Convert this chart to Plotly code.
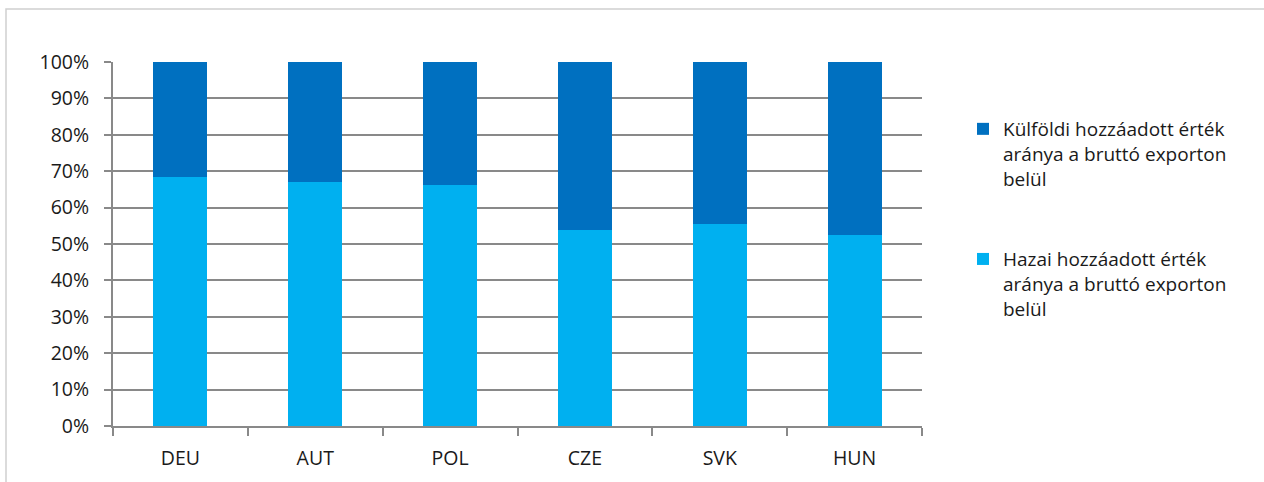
import plotly.graph_objects as go

countries = ["DEU", "AUT", "POL", "CZE", "SVK", "HUN"]
domestic = [68.4, 66.9, 66.2, 53.8, 55.4, 52.6]
foreign = [round(100 - d, 1) for d in domestic]

name_foreign = "Külföldi hozzáadott érték<br>aránya a bruttó exporton<br>belül"
name_domestic = "Hazai hozzáadott érték<br>aránya a bruttó exporton<br>belül"

W, H = 1264, 482
L, R, T, B = 113, 922, 62, 426

fig = go.Figure()
fig.add_trace(go.Bar(x=countries, y=domestic, name=name_domestic, marker_color="#00B0F0",
                     marker_line_width=0, legendgroup="d", legendrank=2))
fig.add_trace(go.Bar(x=countries, y=foreign, name=name_foreign, marker_color="#0070C0",
                     marker_line_width=0, legendgroup="f", legendrank=1))

font = dict(family="Open Sans", size=19.5, color="#1a1a1a")
lfont = dict(family="Open Sans", size=19, color="#1a1a1a")

fig.update_layout(
    width=W, height=H,
    margin=dict(l=L, r=W - R, t=T, b=H - B, pad=0),
    barmode="stack", bargap=0.6,
    plot_bgcolor="white", paper_bgcolor="white",
    font=font,
    showlegend=True,
    legend=dict(
        xref="container", yref="container",
        x=963 / W, y=1 - 110 / H, xanchor="left", yanchor="top",
        traceorder="grouped", tracegroupgap=53,
        valign="top", font=lfont, itemwidth=30,
        bgcolor="rgba(0,0,0,0)",
    ),
    xaxis=dict(
        type="category", showgrid=False, showline=True, linecolor="#898989", linewidth=2,
        ticks="outside", tickson="boundaries", ticklen=8, tickcolor="#898989", tickwidth=1.5,
        ticklabelstandoff=14, tickfont=font,
    ),
    yaxis=dict(
        range=[0, 100], tickvals=list(range(0, 101, 10)),
        ticktext=[f"{v}%" for v in range(0, 101, 10)],
        showgrid=True, gridcolor="#898989", gridwidth=1.5,
        showline=True, linecolor="#898989", linewidth=2,
        ticks="outside", ticklen=7, tickcolor="#898989", tickwidth=1.5,
        ticklabelstandoff=11, tickfont=font, zeroline=False,
    ),
    shapes=[dict(type="rect", xref="paper", yref="paper",
                 x0=(6 - L) / (R - L), x1=2, y0=-1, y1=(B - 9) / (B - T),
                 line=dict(color="#d0d0d0", width=1.5), fillcolor="rgba(0,0,0,0)", layer="below")],
)

fig.write_html("out.html", config={"displayModeBar": False},
               post_script="document.body.style.margin='0';document.body.style.overflow='hidden';")
